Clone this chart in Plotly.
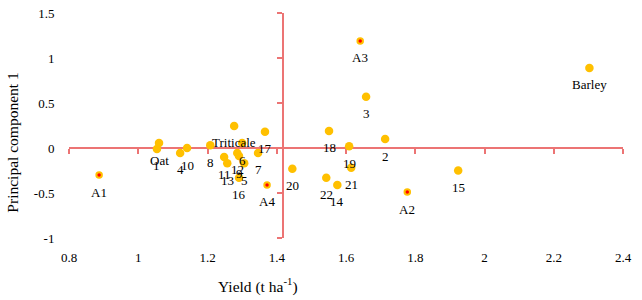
import plotly.graph_objects as go

# ---- data ----
labels = ["A1", "A2", "A3", "A4", "Oat", "Triticale", "Barley",
          "1", "2", "3", "4", "5", "6", "7", "8", "9", "10", "11",
          "12", "13", "14", "15", "16", "17", "18", "19", "20", "21", "22"]
yield_t = [0.887, 1.777, 1.641, 1.372, 1.060, 1.277, 2.303,
           1.054, 1.713, 1.658, 1.121, 1.306, 1.300, 1.346, 1.208, 1.291, 1.141, 1.248,
           1.286, 1.257, 1.575, 1.924, 1.291, 1.366, 1.551, 1.609, 1.445, 1.615, 1.543]
pc1 = [-0.30, -0.49, 1.19, -0.41, 0.055, 0.245, 0.89,
       -0.01, 0.10, 0.57, -0.055, -0.17, 0.055, -0.055, 0.03, -0.09, 0.00, -0.10,
       -0.055, -0.17, -0.41, -0.25, -0.33, 0.18, 0.19, 0.02, -0.23, -0.22, -0.33]
is_special = [lab.startswith("A") and lab[1:].isdigit() for lab in labels]

x_ticks = [0.8, 1.0, 1.2, 1.4, 1.6, 1.8, 2.0, 2.2, 2.4]
x_tick_text = ["0.8", "1", "1.2", "1.4", "1.6", "1.8", "2", "2.2", "2.4"]
y_ticks = [-1, -0.5, 0, 0.5, 1, 1.5]
y_tick_text = ["-1", "-0.5", "0", "0.5", "1", "1.5"]

x_range = [0.8, 2.4]
y_range = [-1, 1.5]
x_cross = 1.418   # where the vertical axis crosses
y_cross = 0.0     # where the horizontal axis crosses

FONT = "'Liberation Serif', 'Times New Roman', serif"
GOLD = "#FFC000"
RED_DOT = "#FF0000"
AXIS_RED = "#EC7474"

fig = go.Figure()

# regular points
nx = [x for x, s in zip(yield_t, is_special) if not s]
ny = [y for y, s in zip(pc1, is_special) if not s]
fig.add_trace(go.Scatter(x=nx, y=ny, mode="markers",
                         marker=dict(size=8.5, color=GOLD, line=dict(width=0)),
                         showlegend=False, hoverinfo="skip"))
# highlighted points
sx = [x for x, s in zip(yield_t, is_special) if s]
sy = [y for y, s in zip(pc1, is_special) if s]
fig.add_trace(go.Scatter(x=sx, y=sy, mode="markers",
                         marker=dict(size=5.5, color=RED_DOT, line=dict(color=GOLD, width=2)),
                         showlegend=False, hoverinfo="skip"))
# dummy trace for crossing axes
fig.add_trace(go.Scatter(x=[None], y=[None], xaxis="x2", yaxis="y2",
                         showlegend=False, hoverinfo="skip"))

# point labels
for lab, x, y in zip(labels, yield_t, pc1):
    fig.add_annotation(x=x, y=y, text=lab, showarrow=False, yshift=-17,
                       xanchor="center", yanchor="middle",
                       font=dict(family=FONT, size=13, color="black"))

# axis titles
fig.add_annotation(xref="paper", yref="paper", x=0.341, y=-0.209,
                   xanchor="center", yanchor="middle",
                   text="Yield (t ha<sup>-1</sup>)", showarrow=False,
                   font=dict(family=FONT, size=15.5, color="black"))
fig.add_annotation(xref="paper", yref="paper", x=-0.101, y=0.424,
                   xanchor="center", yanchor="middle",
                   text="Principal component 1", showarrow=False, textangle=-90,
                   font=dict(family=FONT, size=15.5, color="black"))

fig.update_layout(
    template="none",
    width=642, height=300,
    margin=dict(l=69, r=19, t=13, b=62, autoexpand=False),
    paper_bgcolor="white", plot_bgcolor="white",
    font=dict(family=FONT, size=13, color="black"),
    xaxis=dict(range=x_range, tickvals=x_ticks, ticktext=x_tick_text,
               showline=False, showgrid=False, zeroline=False, automargin=False,
               ticks="outside", ticklen=7, tickcolor="rgba(0,0,0,0)",
               tickfont=dict(family=FONT, size=13, color="black")),
    yaxis=dict(range=y_range, tickvals=y_ticks, ticktext=y_tick_text,
               showline=False, showgrid=False, zeroline=False, automargin=False,
               ticks="outside", ticklen=11, tickcolor="rgba(0,0,0,0)",
               tickfont=dict(family=FONT, size=13, color="black")),
    xaxis2=dict(range=x_range, tickvals=x_ticks, overlaying="x", anchor="free",
                position=(y_cross - y_range[0]) / (y_range[1] - y_range[0]),
                showline=True, linecolor=AXIS_RED, linewidth=2, automargin=False,
                ticks="outside", ticklen=5, tickwidth=2, tickcolor=AXIS_RED,
                showticklabels=False, showgrid=False, zeroline=False,
                layer="below traces"),
    yaxis2=dict(range=y_range, tickvals=y_ticks, overlaying="y", anchor="free",
                position=(x_cross - x_range[0]) / (x_range[1] - x_range[0]),
                side="left", automargin=False,
                showline=True, linecolor=AXIS_RED, linewidth=2,
                ticks="outside", ticklen=5, tickwidth=2, tickcolor=AXIS_RED,
                showticklabels=False, showgrid=False, zeroline=False,
                layer="below traces"),
)

fig.write_html("out.html", config={"displayModeBar": False},
               post_script="document.body.style.margin='0';document.body.style.padding='0';")
